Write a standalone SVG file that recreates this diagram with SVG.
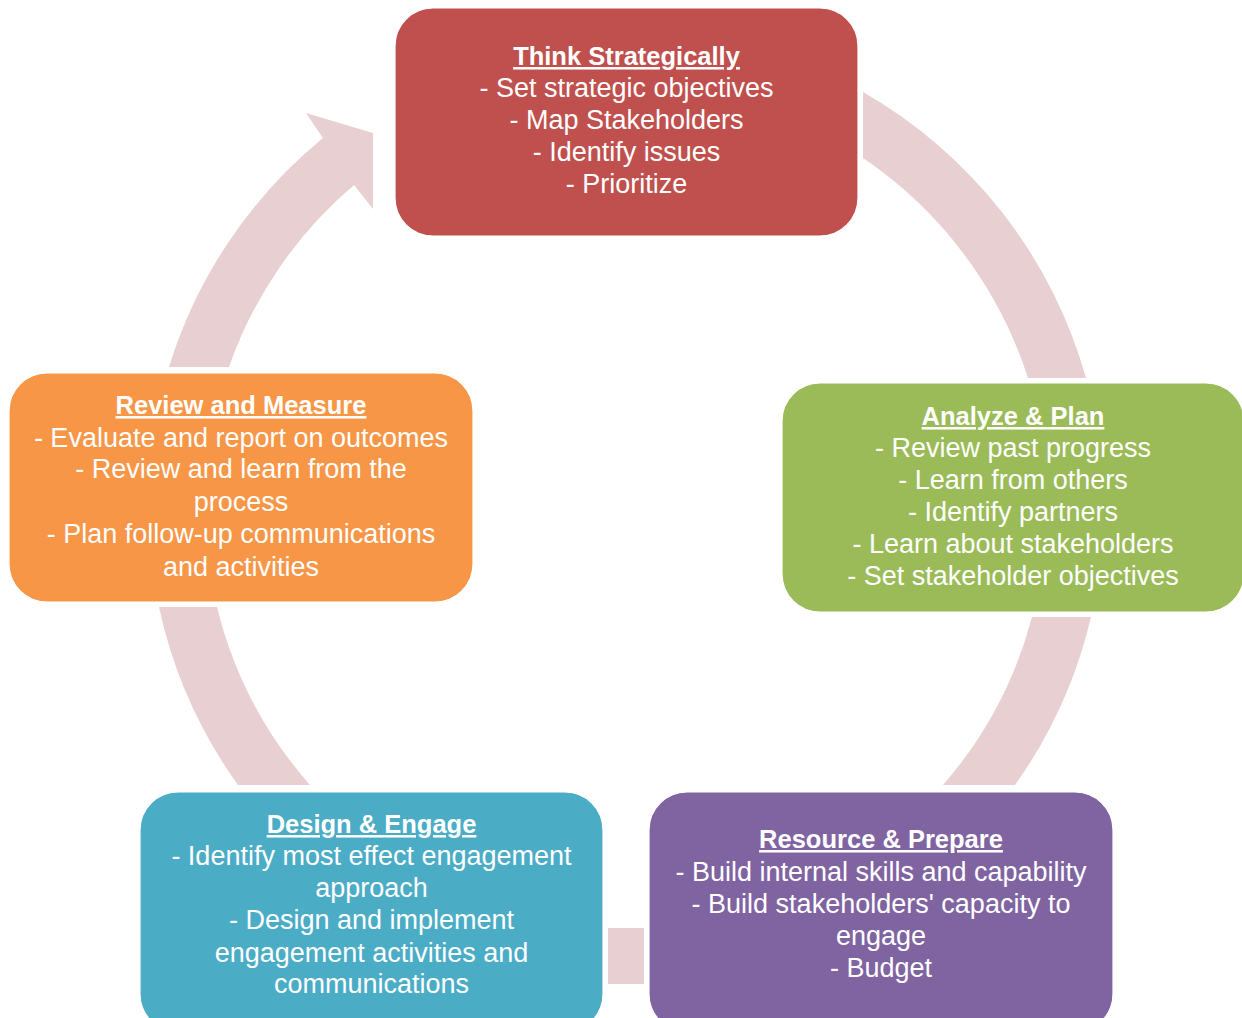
<svg xmlns="http://www.w3.org/2000/svg" width="1242" height="1018" viewBox="0 0 1242 1018">
<style>
.arc{fill:#E8CFD1;stroke:none}
.box{stroke:#ffffff;stroke-width:1.2}
text{font-family:"Liberation Sans",Arial,sans-serif;font-size:27px;fill:#ffffff;text-anchor:middle}
.t{font-weight:bold;font-size:25.5px;text-decoration:underline}
</style>
<rect width="1242" height="1018" fill="#ffffff"/>
<g id="connectors">
<path class="arc" d="M 863,92 A 478 478 0 0 1 1086,378 L 1028,378 A 421 421 0 0 0 863,158 Z"/>
<path class="arc" d="M 1091,617 A 478 478 0 0 1 1015,785 L 943,785 A 421 421 0 0 0 1032,617 Z"/>
<path class="arc" d="M 608,928 L 644,928 L 644,984 L 608,984 Z"/>
<path class="arc" d="M 238,785 A 478 478 0 0 1 159,607 L 217,607 A 421 421 0 0 0 310,785 Z"/>
<path class="arc" d="M 169,367 A 478 478 0 0 1 323,138 L 306,113 L 373,133 L 373,209 L 354,185 A 421 421 0 0 0 229,367 Z"/>
</g>
<g id="think">
<rect class="box" x="395" y="8" width="463" height="228" rx="38" fill="#C0504D"/>
<text x="626.5" y="65" class="t">Think Strategically</text>
<text x="626.5" y="97">- Set strategic objectives</text>
<text x="626.5" y="129">- Map Stakeholders</text>
<text x="626.5" y="161">- Identify issues</text>
<text x="626.5" y="193">- Prioritize</text>
</g>
<g id="analyze">
<rect class="box" x="782" y="383" width="462" height="229" rx="38" fill="#9BBB59"/>
<text x="1013" y="425" class="t">Analyze &amp; Plan</text>
<text x="1013" y="457">- Review past progress</text>
<text x="1013" y="489">- Learn from others</text>
<text x="1013" y="521">- Identify partners</text>
<text x="1013" y="553">- Learn about stakeholders</text>
<text x="1013" y="585">- Set stakeholder objectives</text>
</g>
<g id="resource">
<rect class="box" x="649" y="792" width="464" height="240" rx="38" fill="#8064A2"/>
<text x="881" y="848" class="t">Resource &amp; Prepare</text>
<text x="881" y="881">- Build internal skills and capability</text>
<text x="881" y="913">- Build stakeholders' capacity to</text>
<text x="881" y="945">engage</text>
<text x="881" y="977">- Budget</text>
</g>
<g id="design">
<rect class="box" x="140" y="792" width="463" height="240" rx="38" fill="#4BACC6"/>
<text x="371.5" y="833" class="t">Design &amp; Engage</text>
<text x="371.5" y="865">- Identify most effect engagement</text>
<text x="371.5" y="897">approach</text>
<text x="371.5" y="929">- Design and implement</text>
<text x="371.5" y="962">engagement activities and</text>
<text x="371.5" y="993">communications</text>
</g>
<g id="review">
<rect class="box" x="9" y="373" width="464" height="229" rx="38" fill="#F79646"/>
<text x="241" y="414" class="t">Review and Measure</text>
<text x="241" y="447">- Evaluate and report on outcomes</text>
<text x="241" y="478">- Review and learn from the</text>
<text x="241" y="511">process</text>
<text x="241" y="543">- Plan follow-up communications</text>
<text x="241" y="576">and activities</text>
</g>
</svg>
